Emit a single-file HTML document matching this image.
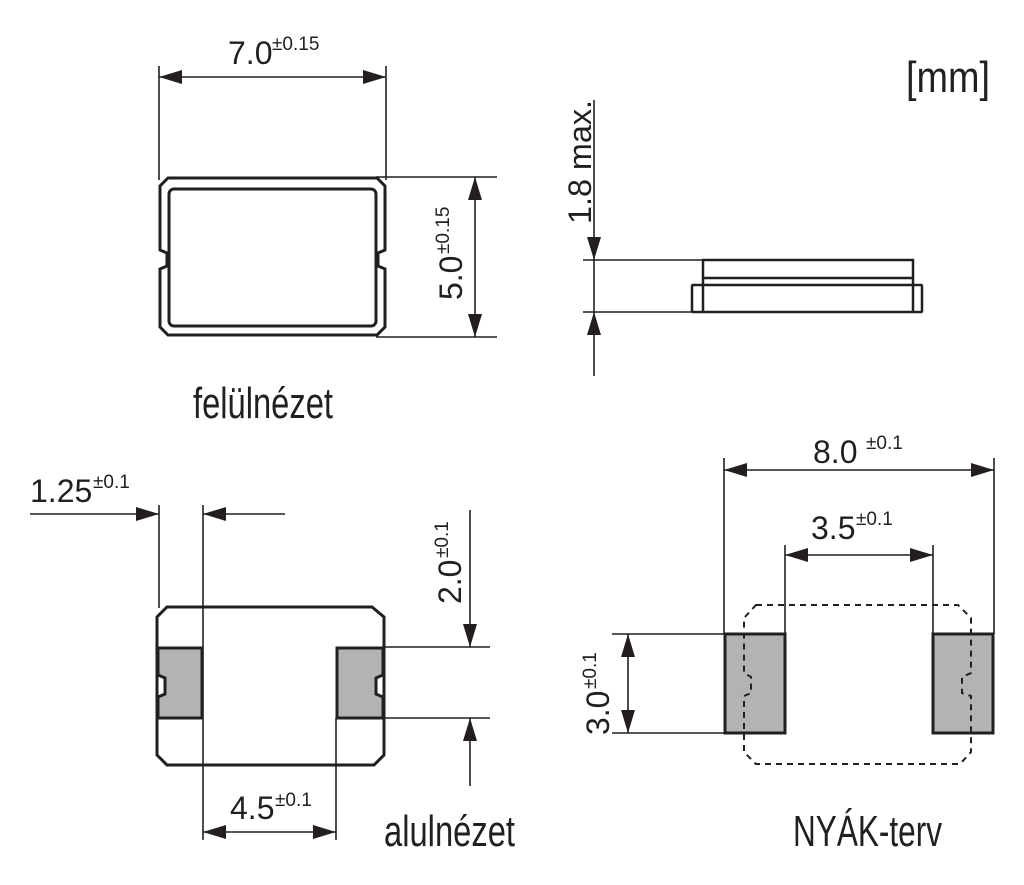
<!DOCTYPE html>
<html><head><meta charset="utf-8"><style>
html,body{margin:0;padding:0;background:#fff;}
svg{display:block;}
.d{font-family:"Liberation Sans",sans-serif;font-size:32px;fill:#231f20;}
.s{font-family:"Liberation Sans",sans-serif;font-size:19px;fill:#231f20;}
.c{font-family:"Liberation Sans Narrow","Liberation Sans",sans-serif;font-size:44px;fill:#231f20;}
</style></head><body>
<svg width="1024" height="885" viewBox="0 0 1024 885" xmlns="http://www.w3.org/2000/svg">
<g stroke="#231f20" fill="none" stroke-width="1.6">
<line x1="159" y1="66" x2="159" y2="180"/>
<line x1="386" y1="66" x2="386" y2="180"/>
<line x1="159" y1="77" x2="386" y2="77"/>
<line x1="376" y1="177" x2="497" y2="177"/>
<line x1="376" y1="337" x2="497" y2="337"/>
<line x1="475" y1="177" x2="475" y2="337"/>
<line x1="594" y1="100" x2="594" y2="376"/>
<line x1="583" y1="260" x2="703" y2="260"/>
<line x1="583" y1="312" x2="692" y2="312"/>
<line x1="159" y1="505" x2="159" y2="608"/>
<line x1="203" y1="505" x2="203" y2="840"/>
<line x1="336" y1="718" x2="336" y2="840"/>
<line x1="30" y1="514" x2="159" y2="514"/>
<line x1="203" y1="514" x2="285" y2="514"/>
<line x1="203" y1="832" x2="336" y2="832"/>
<line x1="384" y1="647" x2="490" y2="647"/>
<line x1="384" y1="718" x2="490" y2="718"/>
<line x1="470" y1="510" x2="470" y2="647"/>
<line x1="470" y1="718" x2="470" y2="786"/>
<line x1="724" y1="458" x2="724" y2="634"/>
<line x1="994" y1="458" x2="994" y2="634"/>
<line x1="724" y1="470" x2="994" y2="470"/>
<line x1="785" y1="545" x2="785" y2="634"/>
<line x1="933" y1="545" x2="933" y2="634"/>
<line x1="785" y1="555" x2="933" y2="555"/>
<line x1="612" y1="634" x2="725" y2="634"/>
<line x1="612" y1="733" x2="725" y2="733"/>
<line x1="628" y1="634" x2="628" y2="733"/>
</g>
<g fill="#231f20">
<polygon points="159,77 182,70 182,84"/><polygon points="386,77 363,70 363,84"/>
<polygon points="475,177 468,200 482,200"/><polygon points="475,337 468,314 482,314"/>
<polygon points="594,260 587,237 601,237"/><polygon points="594,312 587,335 601,335"/>
<polygon points="159,514 136,507 136,521"/><polygon points="203,514 226,507 226,521"/>
<polygon points="203,832 226,825 226,839"/><polygon points="336,832 313,825 313,839"/>
<polygon points="470,647 463,624 477,624"/><polygon points="470,718 463,741 477,741"/>
<polygon points="724,470 747,463 747,477"/><polygon points="994,470 971,463 971,477"/>
<polygon points="785,555 808,548 808,562"/><polygon points="933,555 910,548 910,562"/>
<polygon points="628,634 621,657 635,657"/><polygon points="628,733 621,710 635,710"/>
</g>
<g stroke="#231f20" fill="none" stroke-width="3">
<path d="M168,178 L377,178 L385,186 L385,250 L378,253 L378,266 L385,269 L385,327 L377,335 L168,335 L160,327 L160,269 L167,266 L167,253 L160,250 L160,186 Z"/>
<rect x="169" y="189" width="207" height="137" rx="5"/>
<rect x="703" y="260" width="210" height="18" stroke-width="2.5"/>
<rect x="692" y="285" width="230" height="27" rx="1" stroke-width="2.5"/>
<line x1="703" y1="278" x2="703" y2="312" stroke-width="2.5"/>
<line x1="913" y1="278" x2="913" y2="312" stroke-width="2.5"/>
<path d="M167,607 L372,607 L384,617 L384,755 L374,765 L167,765 L157,755 L157,617 Z"/>
</g>
<g stroke="#231f20" stroke-width="3" fill="#b3b3b3">
<path d="M158,648 L202,648 L202,718 L158,718 L158,697 L165,694 L165,678 L158,675 Z"/>
<path d="M337,648 L383,648 L383,675 L376,678 L376,694 L383,697 L383,718 L337,718 Z"/>
<rect x="725" y="634" width="60" height="99"/>
<rect x="933" y="634" width="60" height="99"/>
</g>
<path d="M756,605 L958,605 L971,618 L971,673 L962,677 L962,693 L971,696 L971,752 L960,764 L756,764 L744,752 L744,696 L751,693 L751,677 L744,673 L744,618 Z" fill="none" stroke="#231f20" stroke-width="2" stroke-dasharray="6,5"/>
<text class="d" x="228" y="64">7.0</text><text class="s" x="272" y="50">±0.15</text>
<text class="c" x="906" y="92" textLength="84" lengthAdjust="spacingAndGlyphs">[mm]</text>
<g transform="translate(462,300) rotate(-90)"><text class="d" x="0" y="0">5.0</text><text class="s" x="46" y="-13">±0.15</text></g>
<g transform="translate(591,224) rotate(-90)"><text class="d" x="0" y="0" textLength="124" lengthAdjust="spacingAndGlyphs">1.8 max.</text></g>
<text class="c" x="193" y="418" textLength="140" lengthAdjust="spacingAndGlyphs">felülnézet</text>
<text class="d" x="30" y="502">1.25</text><text class="s" x="93" y="488">±0.1</text>
<g transform="translate(461,604) rotate(-90)"><text class="d" x="0" y="0">2.0</text><text class="s" x="46" y="-13">±0.1</text></g>
<text class="d" x="230" y="819">4.5</text><text class="s" x="275" y="806">±0.1</text>
<text class="c" x="384" y="846" textLength="131" lengthAdjust="spacingAndGlyphs">alulnézet</text>
<text class="d" x="813" y="463">8.0</text><text class="s" x="866" y="449">±0.1</text>
<text class="d" x="811" y="539">3.5</text><text class="s" x="856" y="525">±0.1</text>
<g transform="translate(609,735) rotate(-90)"><text class="d" x="0" y="0">3.0</text><text class="s" x="46" y="-13">±0.1</text></g>
<text class="c" x="793" y="846" textLength="149" lengthAdjust="spacingAndGlyphs">NYÁK-terv</text>
</svg>
</body></html>
